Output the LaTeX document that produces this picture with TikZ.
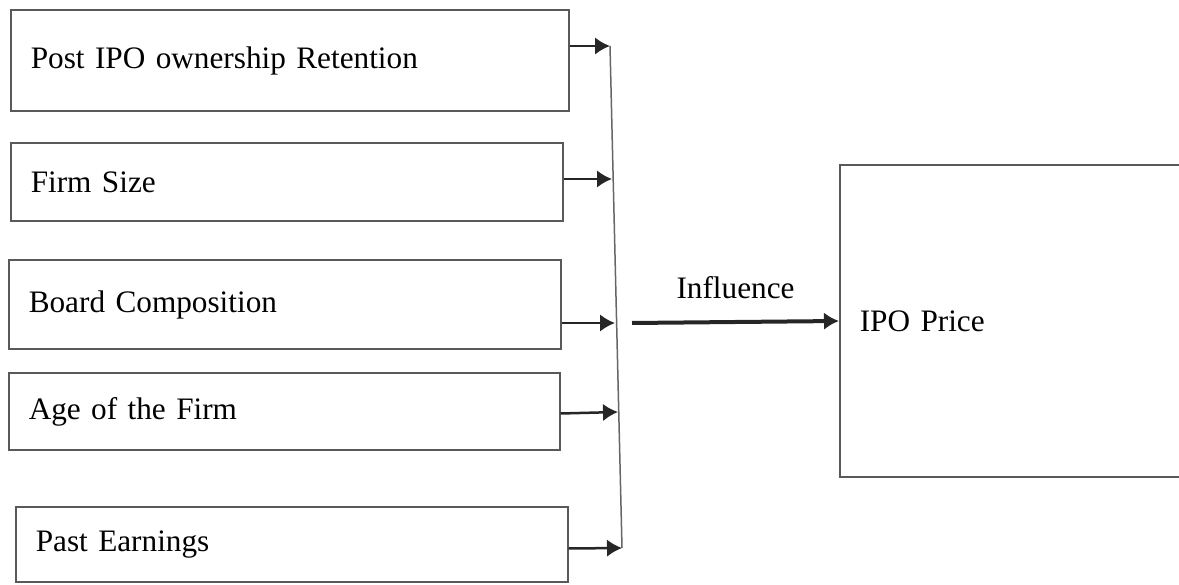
\documentclass[tikz,border=0pt]{standalone}
\usepackage{fontspec}
\setmainfont{Liberation Serif}
\usetikzlibrary{arrows.meta}
\tikzset{
  factor/.style={draw=black!65,line width=0.6pt,rectangle,anchor=west,align=left,inner xsep=8pt,font=\fontsize{12.5}{15}\selectfont},
  feed/.style={draw=black!85,line width=1pt,-{Latex[length=6pt,width=7pt]}},
}
\begin{document}
\begin{tikzpicture}[x=0.4pt,y=-0.4pt]
            \clip (0,0) rectangle (1179,585);
            \node[factor,minimum width=223.2pt,minimum height=40.4pt,text width=207.2pt] (post) at (10,60.5) {Post IPO ownership Retention};
            \node[factor,minimum width=220.8pt,minimum height=31.2pt,text width=204.8pt] (size) at (10,182) {Firm Size};
            \node[factor,minimum width=220.8pt,minimum height=35.6pt,text width=204.8pt] (board) at (8,304.5) {Board Composition};
            \node[factor,minimum width=220.4pt,minimum height=30.8pt,text width=204.4pt] (age) at (8,411.5) {Age of the Firm};
            \node[factor,minimum width=220.8pt,minimum height=30pt,text width=204.8pt] (earn) at (15,544.5) {Past Earnings};
            \node[factor,minimum width=138pt,minimum height=124.8pt,text width=122pt] (ipo) at (839,321) {IPO Price};
            % joining line
            \coordinate (top) at (610,46);
            \coordinate (bot) at (622,548);
            \draw[black!60,line width=0.6pt] (top) -- (bot);
            \coordinate (j2) at (612,179);
            \coordinate (j3) at (615,323);
            \coordinate (j4) at (618,412);
            \draw[feed] (post.east |- top) -- (top);
            \draw[feed] (size.east |- j2) -- (j2);
            \draw[feed] (board.east |- j3) -- (j3);
            \draw[feed] (age.east) ++(0,2) -- (j4);
            \draw[feed] (earn.east) ++(0,4) -- (bot);
            \coordinate (src) at (632,323);
            \draw[feed,line width=1.6pt] (src) -- (ipo.west) node[midway,above=5pt,font=\fontsize{12.5}{15}\selectfont]{Influence};
        \end{tikzpicture}
\end{document}
